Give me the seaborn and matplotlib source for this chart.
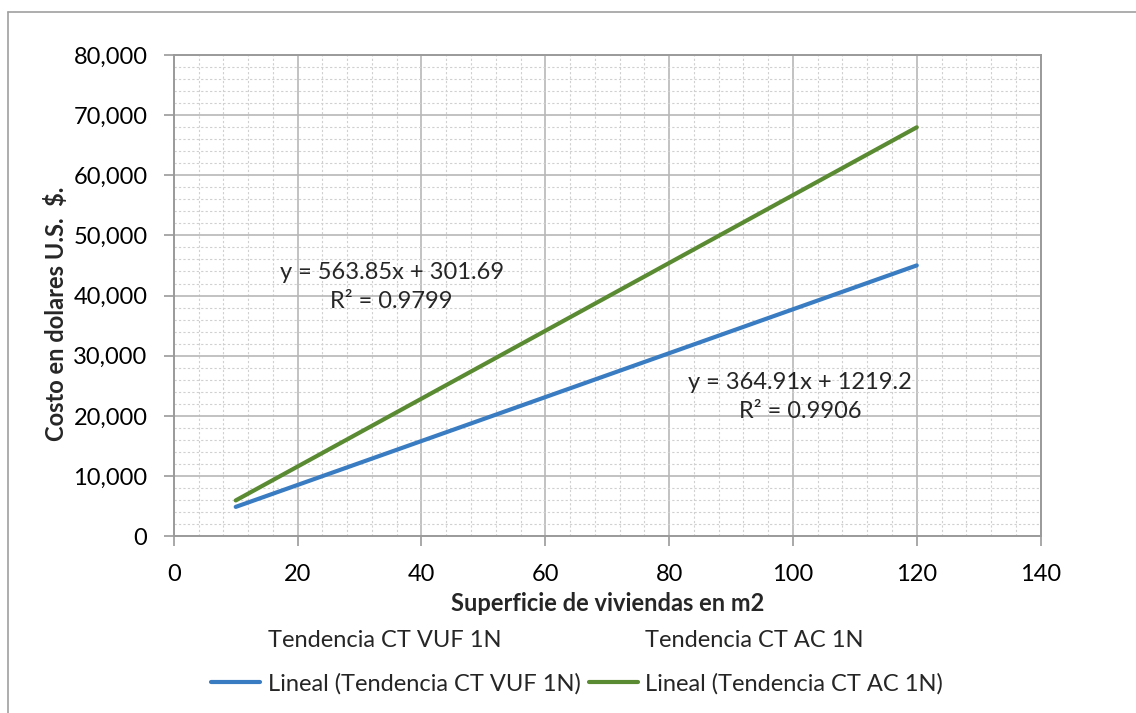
import numpy as np
import pandas as pd
import seaborn as sns
import matplotlib.pyplot as plt
from matplotlib.ticker import MultipleLocator, FuncFormatter
from matplotlib.lines import Line2D

# trendline end points
area = [10, 120]
costo_vuf = [4868, 45008]
costo_ac = [5940, 67964]
serie_vuf = "Lineal (Tendencia CT VUF 1N)"
serie_ac = "Lineal (Tendencia CT AC 1N)"
eq_vuf = "y = 364.91x + 1219.2\nR² = 0.9906"
eq_ac = "y = 563.85x + 301.69\nR² = 0.9799"

df = pd.DataFrame({
    "area": area * 2,
    "costo": costo_vuf + costo_ac,
    "serie": [serie_vuf] * 2 + [serie_ac] * 2,
})

sns.set_theme(style="white")
plt.rcParams["font.family"] = ["Lato", "DejaVu Sans"]
fs = 17

fig = plt.figure(figsize=(11.36, 7.13), dpi=100)
ax = fig.add_axes([0.153, 0.248, 0.763, 0.675])

colores = {serie_vuf: "#3a7cc2", serie_ac: "#5a8a32"}
sns.lineplot(data=df, x="area", y="costo", hue="serie", palette=colores,
             linewidth=3.0, ax=ax, legend=False, zorder=3)

ax.set_xlim(0, 140)
ax.set_ylim(0, 80000)
ax.xaxis.set_major_locator(MultipleLocator(20))
ax.xaxis.set_minor_locator(MultipleLocator(4))
ax.yaxis.set_major_locator(MultipleLocator(10000))
ax.yaxis.set_minor_locator(MultipleLocator(2000))
ax.yaxis.set_major_formatter(FuncFormatter(lambda v, p: f"{int(v):,}"))

ax.grid(which="major", color="#b8b8b8", linewidth=1.2, linestyle="-")
ax.grid(which="minor", color="#d0d0d0", linewidth=0.8, linestyle=(0, (2, 2)))
ax.set_axisbelow(True)
for s in ax.spines.values():
    s.set_color("#9a9a9a")
    s.set_linewidth(1.4)

ax.tick_params(which="major", direction="out", length=7, width=1.2,
               color="#9a9a9a", labelsize=fs, labelcolor="black",
               left=True, bottom=True)
ax.tick_params(axis="x", which="major", pad=13)
ax.tick_params(axis="y", which="major", pad=12)
ax.tick_params(which="minor", length=0)

ax.set_xlabel("Superficie de viviendas en m2", fontsize=fs, fontweight="bold",
              labelpad=5)
ax.set_ylabel("Costo en dolares U.S.  $.", fontsize=fs, fontweight="bold")
ax.yaxis.set_label_coords(-0.122, 0.462)

ax.text(35.2, 41400, eq_ac, ha="center", va="center", fontsize=fs,
        multialignment="center", linespacing=1.45)
ax.text(101.2, 23100, eq_vuf, ha="center", va="center", fontsize=fs,
        multialignment="center", linespacing=1.45)

# legend: scatter entries without markers + trendlines
vacio = Line2D([], [], linestyle="none")
handles = [vacio, Line2D([], [], color=colores[serie_vuf], linewidth=3),
           vacio, Line2D([], [], color=colores[serie_ac], linewidth=3)]
labels = ["Tendencia CT VUF 1N", serie_vuf, "Tendencia CT AC 1N", serie_ac]
fig.legend(handles, labels, loc="upper center", bbox_to_anchor=(0.508, 0.14),
           ncol=2, frameon=False, fontsize=fs, handlelength=2.1,
           handletextpad=0.3, columnspacing=0.35, labelspacing=0.95,
           borderpad=0.2)

# chart border (left and top visible)
fig.add_artist(Line2D([8 / 1136, 8 / 1136], [0, 1 - 12 / 713],
                      transform=fig.transFigure, color="#a0a0a0", linewidth=1.2))
fig.add_artist(Line2D([8 / 1136, 1], [1 - 12 / 713, 1 - 12 / 713],
                      transform=fig.transFigure, color="#a0a0a0", linewidth=1.2))

fig.savefig("out.png", dpi=100)
